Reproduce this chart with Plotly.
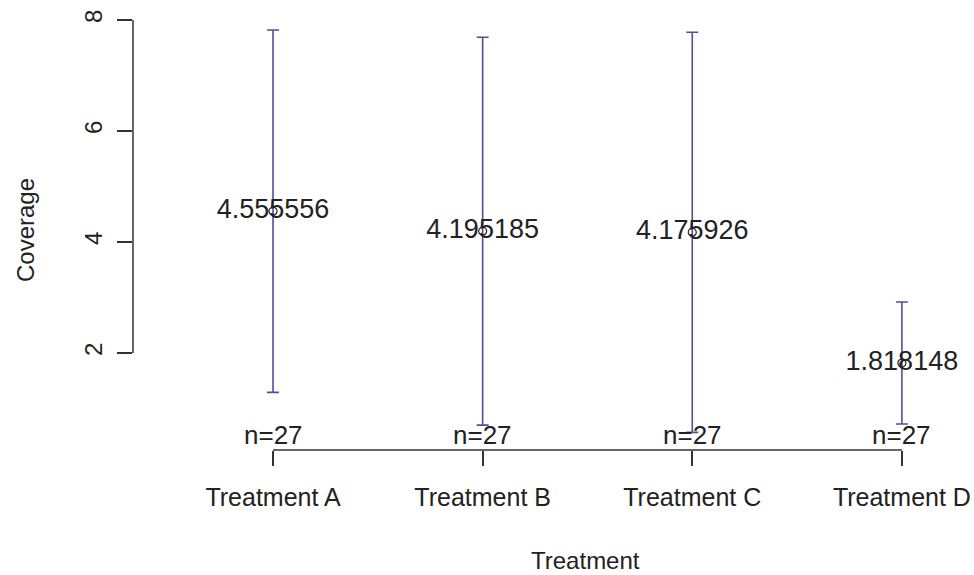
import plotly.graph_objects as go

# ---- data ----
categories = ["Treatment A", "Treatment B", "Treatment C", "Treatment D"]
means = [4.555556, 4.195185, 4.175926, 1.818148]
ci_lower = [1.29, 0.70, 0.57, 0.72]
ci_upper = [7.82, 7.69, 7.78, 2.92]
n_obs = [27, 27, 27, 27]
y_ticks = [2, 4, 6, 8]

x_pos = list(range(1, len(categories) + 1))
err_plus = [u - m for u, m in zip(ci_upper, means)]
err_minus = [m - l for m, l in zip(means, ci_lower)]

FONT = "Liberation Sans, Arial, sans-serif"
TXT = "#222222"
AX = "#333333"
BAR = "#50509a"

fig = go.Figure()

fig.add_trace(go.Scatter(
    x=x_pos, y=means, mode="markers",
    marker=dict(symbol="circle-open", size=8, color=TXT, line=dict(width=1.2)),
    error_y=dict(type="data", symmetric=False, array=err_plus, arrayminus=err_minus,
                 color=BAR, thickness=1.6, width=6),
    hoverinfo="skip", showlegend=False,
))

fig.add_trace(go.Scatter(
    x=x_pos, y=means, mode="text",
    text=[f"{m:.7g}" for m in means],
    textposition="middle center",
    textfont=dict(family=FONT, size=27, color=TXT),
    hoverinfo="skip", showlegend=False,
))

# n labels just above the x axis
for xp, n in zip(x_pos, n_obs):
    fig.add_annotation(x=xp, xref="x", y=0, yref="paper", yanchor="bottom",
                       text=f"n={n}", showarrow=False, yshift=-2,
                       font=dict(family=FONT, size=26, color=TXT))

# R-style axis lines spanning only the tick range
fig.add_shape(type="line", xref="paper", yref="y", x0=0, x1=0,
              y0=min(y_ticks), y1=max(y_ticks), line=dict(color=AX, width=1.5))
fig.add_shape(type="line", xref="x", yref="paper", x0=min(x_pos), x1=max(x_pos),
              y0=0, y1=0, line=dict(color=AX, width=1.5))

# axis titles
fig.add_annotation(x=-0.1284, xref="paper", y=0.5, yref="paper", text="Coverage",
                   textangle=-90, showarrow=False, xanchor="center", yanchor="middle",
                   font=dict(family=FONT, size=24, color=TXT))
fig.add_annotation(x=0.5386, xref="paper", y=-0.25, yref="paper", text="Treatment",
                   showarrow=False, xanchor="center", yanchor="middle",
                   font=dict(family=FONT, size=24, color=TXT))

fig.update_layout(
    width=974, height=575,
    margin=dict(l=133, r=0, t=10, b=125),
    paper_bgcolor="white", plot_bgcolor="white",
    font=dict(family=FONT, color=TXT),
    xaxis=dict(range=[0.332, 4.344], tickvals=x_pos, ticktext=categories,
               showgrid=False, zeroline=False, showline=False,
               ticks="outside", ticklen=15, tickwidth=1.5, tickcolor=AX,
               tickfont=dict(family=FONT, size=25, color=TXT),
               ticklabelstandoff=10),
    yaxis=dict(range=[0.252, 8.18], tickvals=y_ticks,
               showgrid=False, zeroline=False, showline=False,
               ticks="outside", ticklen=15, tickwidth=1.5, tickcolor=AX,
               tickangle=-90,
               tickfont=dict(family=FONT, size=24, color=TXT),
               ticklabelstandoff=5),
)

fig.write_html("out.html")
